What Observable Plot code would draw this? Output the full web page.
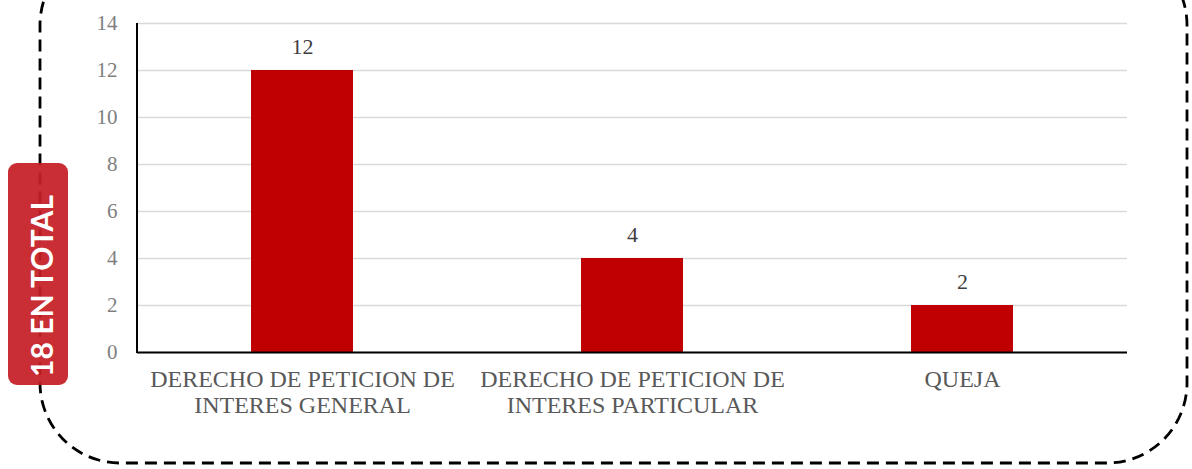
<!DOCTYPE html>
<html>
<head>
<meta charset="utf-8">
<script src="https://cdn.jsdelivr.net/npm/d3@7"></script>
<script src="https://cdn.jsdelivr.net/npm/@observablehq/plot@0.6"></script>
<style>
  html, body { margin: 0; padding: 0; background: #fff; }
  #wrap { position: relative; width: 1192px; height: 469px; overflow: hidden; }
  #wrap > svg { position: absolute; left: 0; top: 0; }
</style>
</head>
<body>
<div id="wrap"></div>
<script>
const categories = ["DERECHO DE PETICION DE INTERES GENERAL", "DERECHO DE PETICION DE INTERES PARTICULAR", "QUEJA"];
const tickLabels = ["DERECHO DE PETICION DE\nINTERES GENERAL", "DERECHO DE PETICION DE\nINTERES PARTICULAR", "QUEJA"];
const values = [12, 4, 2];
const yTicks = [0, 2, 4, 6, 8, 10, 12, 14];
const badgeText = "18 EN TOTAL";

const data = categories.map((c, i) => ({category: c, value: values[i]}));
const serif = "'Liberation Serif', 'DejaVu Serif', serif";

const chart = Plot.plot({
  width: 1192,
  height: 469,
  marginLeft: 137,
  marginRight: 65,
  marginTop: 23,
  marginBottom: 117,
  style: {fontFamily: serif, background: "transparent"},
  x: {domain: categories, paddingInner: 0.69, paddingOuter: 0.345, axis: null, label: null},
  y: {domain: [0, 14], axis: null, label: null},
  marks: [
    Plot.gridY(yTicks, {stroke: "#d9d9d9", strokeOpacity: 1, strokeWidth: 1.5}),
    Plot.barY(data, {x: "category", y: "value", fill: "#c00000"}),
    Plot.text(data, {x: "category", y: "value", text: d => String(d.value), dy: -24, fontSize: 22, fill: "#404040", fontFamily: serif}),
    Plot.ruleY([0], {stroke: "#000", strokeWidth: 2}),
    Plot.axisY(yTicks, {tickSize: 0, tickPadding: 20, fontSize: 21, fill: "#7f7f7f", fontFamily: serif, tickFormat: d => d, label: null}),
    Plot.axisX({tickSize: 0, tickPadding: 15, fontSize: 24, lineHeight: 1.12, fill: "#595959", fontFamily: serif, label: null,
      style: {letterSpacing: "1.3px"},
      tickFormat: d => tickLabels[categories.indexOf(d)]})
  ]
});

const wrap = document.getElementById("wrap");
wrap.appendChild(chart);

const svg = d3.select(chart);
svg.append("line")
  .attr("x1", 137).attr("x2", 137).attr("y1", 23).attr("y2", 353)
  .attr("stroke", "#000").attr("stroke-width", 2);

// decorative overlay: dashed rounded frame and badge
const ov = d3.select(wrap).append("svg")
  .attr("width", 1192).attr("height", 469);
ov.append("rect")
  .attr("x", 40).attr("y", -55).attr("width", 1147).attr("height", 518)
  .attr("rx", 80).attr("ry", 80)
  .attr("fill", "none").attr("stroke", "#000").attr("stroke-width", 2.8)
  .attr("stroke-dasharray", "12 7");
ov.append("rect")
  .attr("x", 8).attr("y", 163).attr("width", 60).attr("height", 222)
  .attr("rx", 9).attr("ry", 9)
  .attr("fill", "#c41e24").attr("fill-opacity", 0.93);
ov.append("text")
  .attr("transform", "translate(41,286) rotate(-90)")
  .attr("text-anchor", "middle").attr("dominant-baseline", "central")
  .attr("fill", "#fff").attr("font-family", "Lato, 'Open Sans', sans-serif")
  .attr("font-weight", "bold").attr("font-size", 30)
  .text(badgeText);
</script>
</body>
</html>
